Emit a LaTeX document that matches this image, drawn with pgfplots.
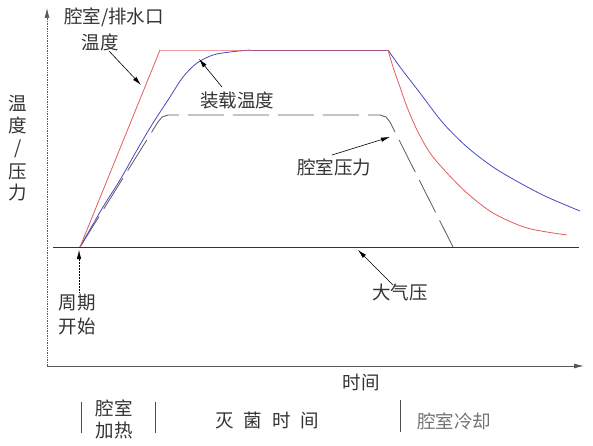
\documentclass[border=0pt]{standalone}
\usepackage{fontspec}
\setmainfont{Noto Sans CJK SC}
\usepackage{pgfplots}
\pgfplotsset{compat=1.18}
\usetikzlibrary{arrows.meta}
\definecolor{redc}{RGB}{226,92,92}
\definecolor{bluec}{RGB}{72,72,196}
\definecolor{txt}{RGB}{51,51,51}
\begin{document}
\begin{tikzpicture}[
  lbl/.style={font=\fontsize{18.5bp}{20bp}\selectfont, text=txt, inner sep=0pt},
  ann/.style={-{Latex[length=9bp,width=4.5bp]}, black, line width=0.6bp}]
\begin{axis}[scale only axis, width=593bp, height=446bp,
  xmin=0, xmax=593, ymin=0, ymax=446, y dir=reverse,
  hide axis, clip=false, no markers]
\path (axis cs:0,0) rectangle (axis cs:593,446);
% axes
\addplot[gray!70!black, line width=0.7bp, densely dotted, -{Latex[length=10bp,width=5bp]}] coordinates {(47,366) (47,8)};
\addplot[gray!70!black, line width=0.9bp, -{Latex[length=10bp,width=5bp]}] coordinates {(47,366) (584,366)};
% atmospheric pressure
\addplot[black!80, line width=0.8bp] coordinates {(53,247) (579,247)};
% chamber pressure (dashed)
\addplot[black!65, line width=0.8bp, dash pattern=on 36bp off 9bp] coordinates {
 (80,247) (158,122) (162,117) (168,115) (380,115) (386,117) (390,122) (453,247)};
% load temperature
\addplot[bluec, line width=0.8bp, smooth, tension=0.5] coordinates {
 (80,247) (103,207) (120,180) (137,150) (153,123) (170,97) (183,77) (197,63) (213,55) (230,52) (250,50)};
\addplot[bluec, line width=0.8bp] coordinates {(250,50) (388,50)};
\addplot[bluec, line width=0.8bp, smooth, tension=0.5] coordinates {
 (388,50) (400,67) (420,93) (443,123) (467,147) (493,167) (520,183) (547,197) (580,211)};
% chamber / drain temperature
\addplot[redc, line width=0.8bp] coordinates {(80,247) (160,50)};
\addplot[redc, line width=0.8bp, opacity=0.6] coordinates {(160,50) (388,50)};
\addplot[redc, line width=0.8bp, smooth, tension=0.5] coordinates {
 (388,50) (393,67) (400,87) (407,107) (417,130) (430,153) (447,173) (467,193) (493,213) (527,228) (567,235)};
% phase separators
\addplot[black!70, line width=0.6bp] coordinates {(81,402) (81,433)};
\addplot[black!70, line width=0.6bp] coordinates {(155,402) (155,433)};
\addplot[black!70, line width=0.6bp] coordinates {(400,400) (400,432)};
% annotation arrows
\addplot[ann] coordinates {(109,51) (141,85)};
\addplot[ann] coordinates {(222,87) (199,59)};
\addplot[ann] coordinates {(332,155) (390,137)};
\addplot[ann] coordinates {(393,285) (358,250)};
\addplot[ann, line width=0.5bp, densely dotted] coordinates {(79,292) (79,250)};
% labels
\node[lbl] at (axis cs:114,17) {腔室/排水口};
\node[lbl] at (axis cs:100,42) {温度};
\node[lbl] at (axis cs:237,100) {装载温度};
\node[lbl] at (axis cs:334,167) {腔室压力};
\node[lbl] at (axis cs:400,292) {大气压};
\node[lbl] at (axis cs:77,303) {周期};
\node[lbl] at (axis cs:77,326) {开始};
\node[lbl] at (axis cs:18,103) {温};
\node[lbl] at (axis cs:18,125) {度};
\node[lbl] at (axis cs:18,149) {/};
\node[lbl] at (axis cs:18,172) {压};
\node[lbl] at (axis cs:18,193) {力};
\node[lbl] at (axis cs:361,383) {时间};
\node[lbl] at (axis cs:114,408) {腔室};
\node[lbl] at (axis cs:114,430) {加热};
\node[lbl] at (axis cs:267,420) {灭\hspace{10bp}菌\hspace{10bp}时\hspace{10bp}间};
\node[lbl, text=black!55] at (axis cs:454,421) {腔室冷却};
\end{axis}
\end{tikzpicture}
\end{document}
